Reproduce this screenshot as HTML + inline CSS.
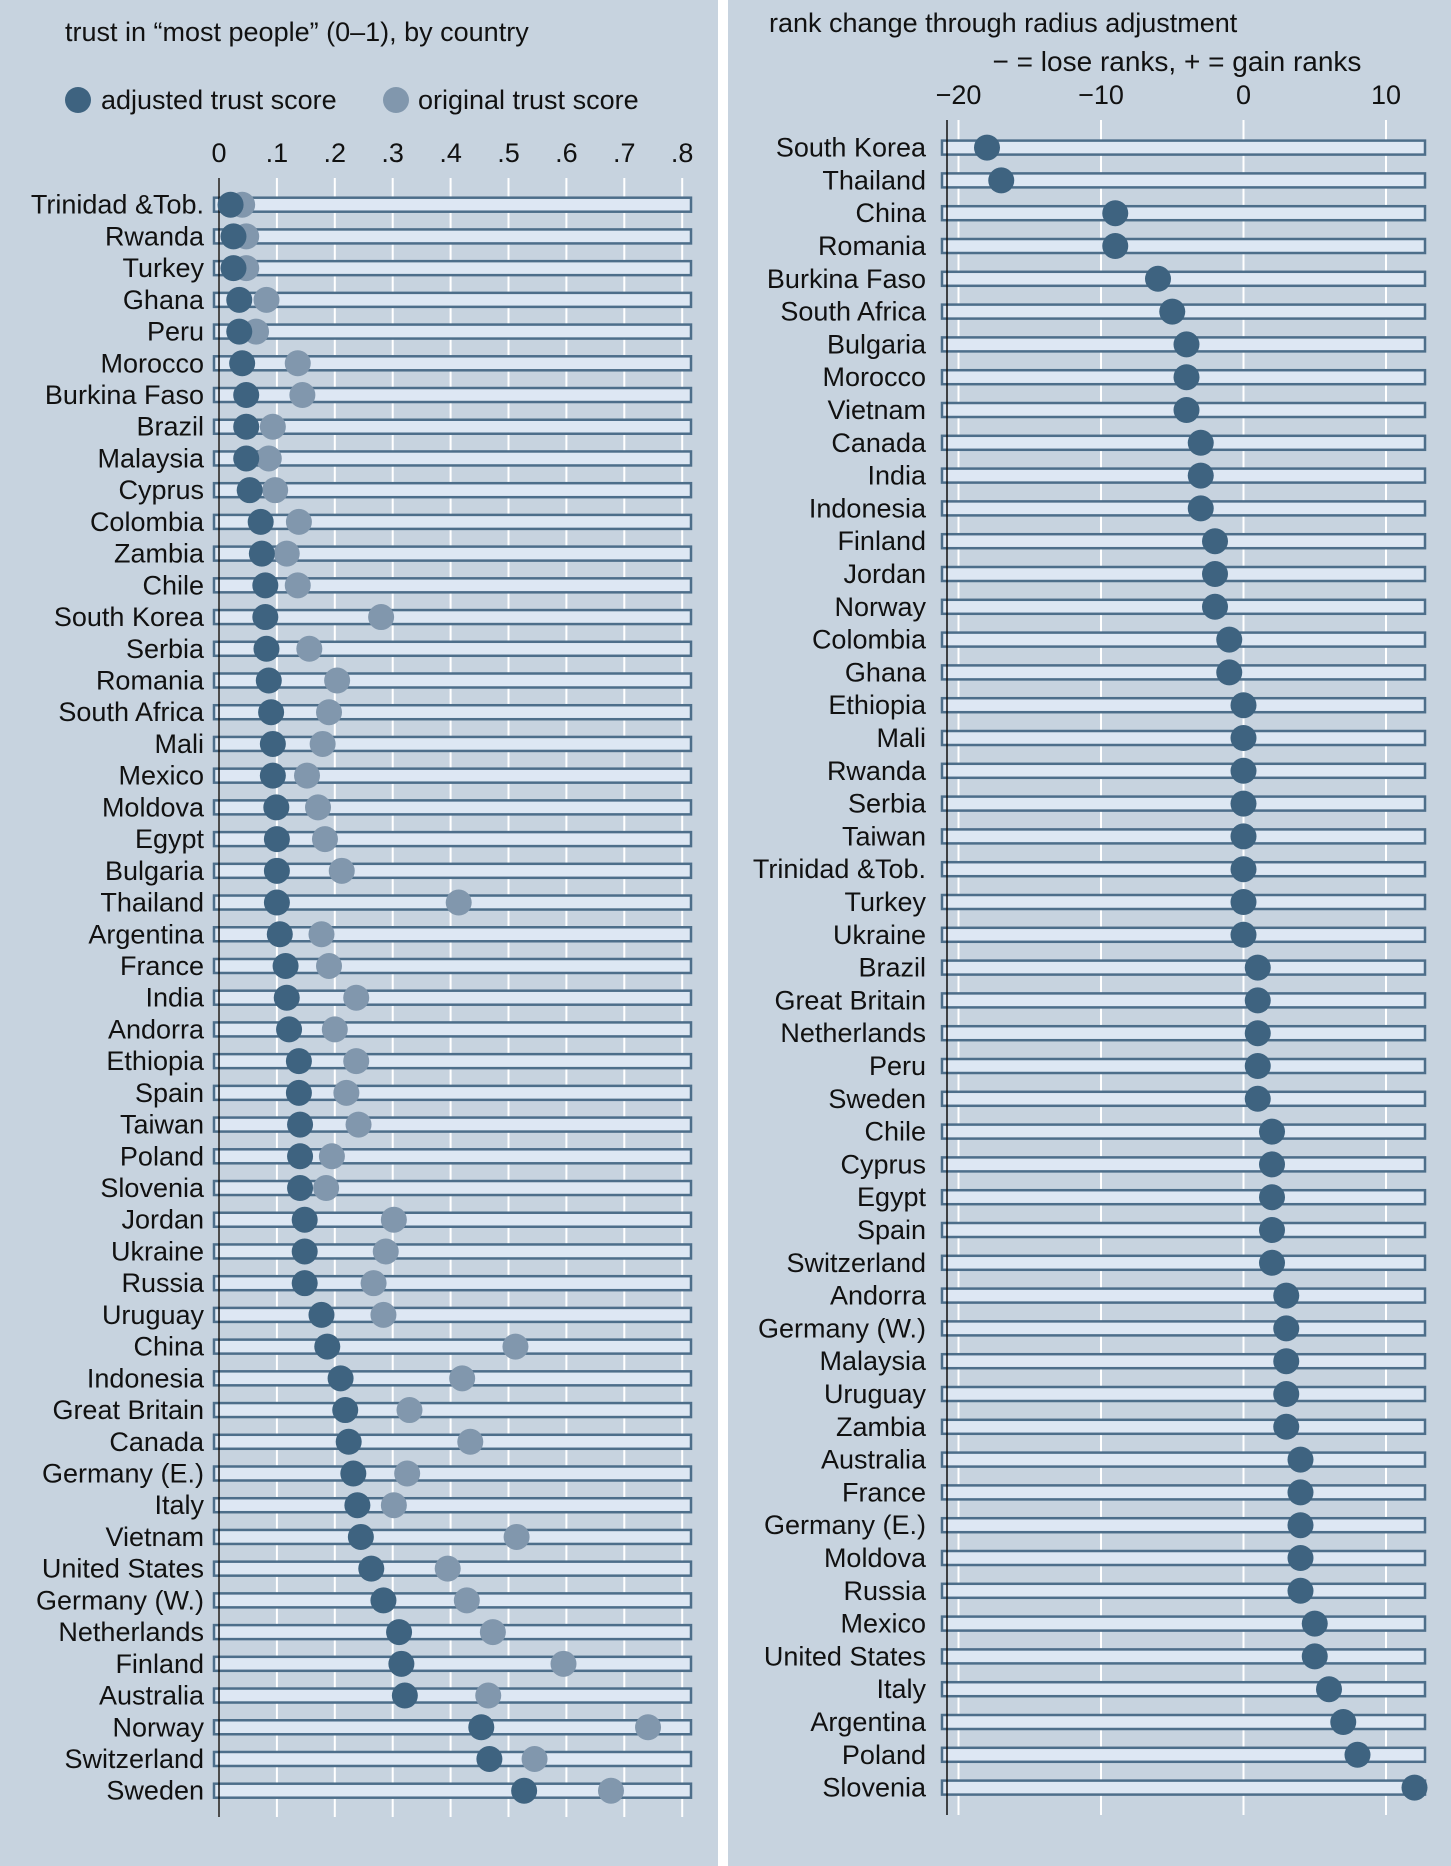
<!DOCTYPE html>
<html><head><meta charset="utf-8"><style>
html,body{margin:0;padding:0;background:#fff;}
svg{display:block;font-family:"Liberation Sans",sans-serif;}
</style></head><body>
<svg id="chart" width="1451" height="1866" viewBox="0 0 1451 1866" xmlns="http://www.w3.org/2000/svg">
<rect x="0" y="0" width="718" height="1866" fill="#c7d3df"/>
<rect x="728" y="0" width="723" height="1866" fill="#c7d3df"/>
<text x="65" y="41" font-size="27" fill="#111">trust in “most people” (0–1), by country</text>
<circle cx="78" cy="100" r="13" fill="#3e6380"/>
<text x="101" y="109" font-size="27" fill="#111">adjusted trust score</text>
<circle cx="396" cy="100" r="13" fill="#8197ad"/>
<text x="418" y="109" font-size="27" fill="#111">original trust score</text>
<text x="769" y="32" font-size="27" fill="#111">rank change through radius adjustment</text>
<text x="1177" y="71" font-size="28" fill="#111" text-anchor="middle">− = lose ranks, + = gain ranks</text>
<g id="left"></g><g id="right"></g>
</svg>
<script>
const leftCountries=["Trinidad &Tob.","Rwanda","Turkey","Ghana","Peru","Morocco","Burkina Faso","Brazil","Malaysia","Cyprus","Colombia","Zambia","Chile","South Korea","Serbia","Romania","South Africa","Mali","Mexico","Moldova","Egypt","Bulgaria","Thailand","Argentina","France","India","Andorra","Ethiopia","Spain","Taiwan","Poland","Slovenia","Jordan","Ukraine","Russia","Uruguay","China","Indonesia","Great Britain","Canada","Germany (E.)","Italy","Vietnam","United States","Germany (W.)","Netherlands","Finland","Australia","Norway","Switzerland","Sweden"];
const adjusted=[.02,.025,.025,.035,.035,.04,.047,.047,.047,.053,.072,.074,.08,.08,.082,.086,.09,.093,.093,.099,.10,.10,.10,.105,.115,.117,.121,.138,.138,.14,.14,.14,.148,.148,.148,.177,.187,.21,.218,.224,.232,.239,.245,.263,.284,.311,.315,.321,.453,.467,.527];
const original=[.04,.047,.047,.082,.064,.136,.144,.093,.086,.097,.138,.117,.136,.28,.156,.204,.19,.179,.152,.171,.183,.212,.414,.177,.19,.237,.20,.237,.22,.241,.195,.185,.302,.288,.267,.284,.512,.42,.329,.434,.325,.302,.514,.395,.428,.473,.595,.465,.741,.545,.677];
const leftTicks=[0,.1,.2,.3,.4,.5,.6,.7,.8];
const leftTickLabels=["0",".1",".2",".3",".4",".5",".6",".7",".8"];
const rightCountries=["South Korea","Thailand","China","Romania","Burkina Faso","South Africa","Bulgaria","Morocco","Vietnam","Canada","India","Indonesia","Finland","Jordan","Norway","Colombia","Ghana","Ethiopia","Mali","Rwanda","Serbia","Taiwan","Trinidad &Tob.","Turkey","Ukraine","Brazil","Great Britain","Netherlands","Peru","Sweden","Chile","Cyprus","Egypt","Spain","Switzerland","Andorra","Germany (W.)","Malaysia","Uruguay","Zambia","Australia","France","Germany (E.)","Moldova","Russia","Mexico","United States","Italy","Argentina","Poland","Slovenia"];
const rankChange=[-18,-17,-9,-9,-6,-5,-4,-4,-4,-3,-3,-3,-2,-2,-2,-1,-1,0,0,0,0,0,0,0,0,1,1,1,1,1,2,2,2,2,2,3,3,3,3,3,4,4,4,4,4,5,5,6,7,8,12];
const rightTicks=[-20,-10,0,10];
const rightTickLabels=["−20","−10","0","10"];

const NS="http://www.w3.org/2000/svg";
function mk(parent,tag,attrs,txt){const e=document.createElementNS(NS,tag);for(const k in attrs)e.setAttribute(k,attrs[k]);if(txt!==undefined)e.textContent=txt;parent.appendChild(e);return e;}
const lx=v=>219+v*579;
const ly=i=>204.7+i*31.72;
const rx=v=>1243.5+v*14.25;
const ry=i=>147.6+i*32.8;

const L=document.getElementById('left');
leftTicks.forEach((t,i)=>{
  const g=mk(L,'line',{x1:lx(t),x2:lx(t),y1:178,y2:1817,stroke:'#fff','stroke-width':2});
  
  
  const tx=mk(L,'text',{x:lx(t),y:162,'font-size':27,'text-anchor':'middle',fill:'#111'},leftTickLabels[i]);
  
  
});
leftCountries.forEach((c,i)=>{
  const y=ly(i);
  const b=mk(L,'rect',{x:214,y:y-7,width:477,height:14,fill:'#dde7f3',stroke:'#4d6e8a','stroke-width':2.5});
  
  
  const t=mk(L,'text',{x:204,y:y+9,'font-size':27,'text-anchor':'end',fill:'#111'},c);
  
  
});
mk(L,'line',{x1:219,x2:219,y1:178,y2:1817,stroke:'#111','stroke-width':1.5});
leftCountries.forEach((c,i)=>{
  const y=ly(i);
  const o=mk(L,'circle',{cx:lx(original[i]),cy:y,r:13,fill:'#8197ad'});
  
  
  const a=mk(L,'circle',{cx:lx(adjusted[i]),cy:y,r:13,fill:'#3e6380'});
  
  
});

const R=document.getElementById('right');
rightTicks.forEach((t,i)=>{
  const g=mk(R,'line',{x1:rx(t),x2:rx(t),y1:120,y2:1815,stroke:'#fff','stroke-width':2});
  
  
  const tx=mk(R,'text',{x:rx(t),y:104,'font-size':27,'text-anchor':'middle',fill:'#111'},rightTickLabels[i]);
  
  
});
rightCountries.forEach((c,i)=>{
  const y=ry(i);
  const b=mk(R,'rect',{x:942,y:y-7,width:483,height:14,fill:'#dde7f3',stroke:'#4d6e8a','stroke-width':2.5});
  
  
  const t=mk(R,'text',{x:926,y:y+9,'font-size':27,'text-anchor':'end',fill:'#111'},c);
  
  
});
mk(R,'line',{x1:947,x2:947,y1:120,y2:1815,stroke:'#111','stroke-width':1.5});
rightCountries.forEach((c,i)=>{
  const p=mk(R,'circle',{cx:rx(rankChange[i]),cy:ry(i),r:13,fill:'#3e6380'});
  
  
});
</script>
</body></html>
